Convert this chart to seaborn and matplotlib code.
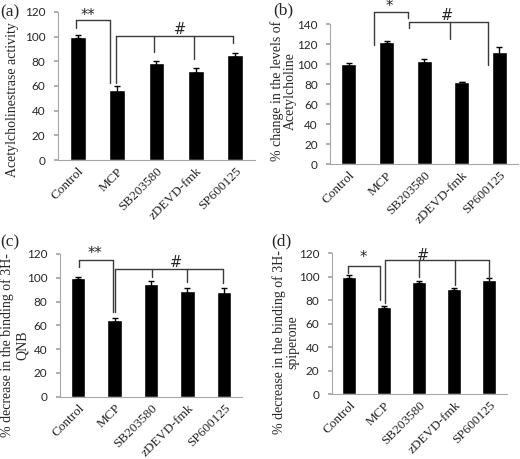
import numpy as np
import pandas as pd
import seaborn as sns
import matplotlib.pyplot as plt

# groups on the x axis (same in all four panels)
groups = ['Control', 'MCP', 'SB203580', 'zDEVD-fmk', 'SP600125']

# (a) acetylcholinesterase activity
ache_mean = [100, 57, 78.5, 72.5, 85.5]
ache_err = [1.2, 2.8, 2, 2, 1.6]
# (b) acetylcholine levels
ach_mean = [100, 122.5, 103, 82, 112.5]
ach_err = [1.5, 1, 2, 0, 5]
# (c) 3H-QNB binding
qnb_mean = [100, 64.5, 95, 89, 88]
qnb_err = [1, 2, 2, 2.5, 3]
# (d) 3H-spiperone binding
spip_mean = [100, 74, 95.5, 89.5, 97]
spip_err = [1, 0.5, 0.8, 0.8, 1.5]

sns.set_theme(style='white')
plt.rcParams['font.family'] = ['Liberation Serif', 'DejaVu Serif']

GRAY = '#a6a6a6'
LINE = '#3a3a3a'

fig = plt.figure(figsize=(5.2, 4.59), dpi=100)


def panel(rect, means, errs, ymax, ylabel, lab_xy, lsp, tag, tag_xy):
    ax = fig.add_axes(rect)
    df = pd.DataFrame({'group': groups, 'value': means})
    sns.barplot(data=df, x='group', y='value', color='black', saturation=1,
                width=0.4, errorbar=None, ax=ax)
    ax.errorbar(range(len(groups)), means, yerr=errs, fmt='none',
                ecolor='black', elinewidth=1, capsize=2.5, capthick=1)
    ax.set_xlim(-0.5, len(groups) - 0.5)
    ax.set_ylim(0, ymax)
    ax.set_yticks(np.arange(0, ymax + 1, 20))
    ax.set_yticklabels([str(v) for v in range(0, ymax + 1, 20)],
                       family='Lato', fontsize=8.5)
    ax.set_xticks(np.arange(len(groups)))
    ax.set_xticklabels(groups, rotation=45, ha='right', rotation_mode='anchor',
                       fontsize=9.5)
    ax.set_xticks(np.arange(-0.5, len(groups), 1), minor=True)
    ax.tick_params(axis='x', which='major', length=0, pad=4)
    ax.tick_params(axis='x', which='minor', length=3, color=GRAY, direction='out')
    ax.tick_params(axis='y', length=3, color=GRAY, direction='out', pad=6, left=True)
    ax.set_xlabel('')
    ax.set_ylabel('')
    for s in ['top', 'right']:
        ax.spines[s].set_visible(False)
    for s in ['left', 'bottom']:
        ax.spines[s].set_color(GRAY)
        ax.spines[s].set_linewidth(0.8)
    ax.text(lab_xy[0], lab_xy[1], ylabel, transform=ax.transAxes, rotation=90,
            ha='center', va='center', fontsize=10, linespacing=lsp)
    fig.text(tag_xy[0], tag_xy[1], tag, fontsize=12.5, ha='left', va='center')
    return ax


def bracket(ax, y, legs, mark, mx, my):
    xs = [l[0] for l in legs]
    ax.plot([min(xs), max(xs)], [y, y], color=LINE, lw=1, clip_on=False)
    for x, yb in legs:
        ax.plot([x, x], [y, yb], color=LINE, lw=1, clip_on=False)
    ax.text(mx, my, mark, ha='center', va='center', fontsize=10.5,
            family='DejaVu Sans', clip_on=False)


ax_a = panel([0.1115, 0.6514, 0.3785, 0.3225], ache_mean, ache_err, 120,
             'Acetylcholinestrase activity', (-0.23, 0.405), 1.0, '(a)', (0.0, 0.974))
bracket(ax_a, 113.5, [(-0.04, 107), (0.82, 62.5)], '**', 0.26, 117)
bracket(ax_a, 100.5, [(0.97, 62.5), (1.94, 87.6), (2.95, 82), (3.94, 95)], '#', 2.6, 106)

ax_b = panel([0.635, 0.6427, 0.361, 0.305], ach_mean, ach_err, 140,
             '% change in the levels of\nAcetylcholine', (-0.25, 0.52), 1.0, '(b)', (0.526, 0.977))
bracket(ax_b, 152, [(0.67, 119), (1.57, 145.7)], '*', 1.07, 157.5)
bracket(ax_b, 141.7, [(1.6, 135.7), (2.69, 124.7), (3.71, 99)], '#', 2.61, 149)

ax_c = panel([0.1154, 0.1357, 0.3500, 0.3110], qnb_mean, qnb_err, 120,
             '% decrease in the binding of 3H-\nQNB', (-0.25, 0.36), 1.15, '(c)', (0.0, 0.472))
bracket(ax_c, 115, [(0.02, 109), (0.95, 71.5)], '**', 0.46, 120)
bracket(ax_c, 107, [(1.01, 71.5), (2.02, 101), (3.0, 96.7), (3.97, 95.4)], '#', 2.68, 113)

ax_d = panel([0.638, 0.1416, 0.337, 0.3072], spip_mean, spip_err, 120,
             '% decrease in the binding of 3H-\nspiperone', (-0.26, 0.365), 1.05, '(d)', (0.522, 0.474))
bracket(ax_d, 109, [(-0.04, 103), (0.89, 80)], '*', 0.39, 116)
bracket(ax_d, 114, [(1.03, 77.4), (2.0, 100), (3.01, 92.8), (4.0, 98.7)], '#', 2.09, 118)

fig.savefig('out.png', dpi=100, facecolor='white')
